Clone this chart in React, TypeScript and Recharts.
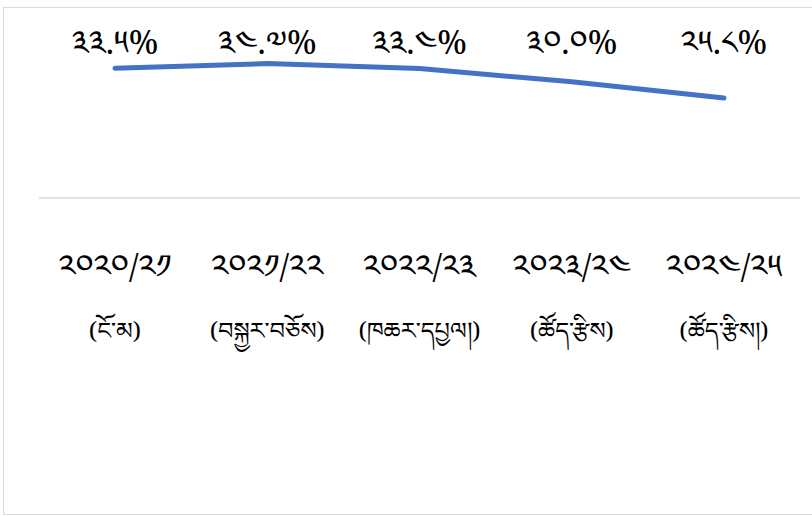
import React from 'react';
import { LineChart, Line, XAxis, YAxis, LabelList } from 'recharts';

const years = ['༢༠༢༠/༢༡', '༢༠༢༡/༢༢', '༢༠༢༢/༢༣', '༢༠༢༣/༢༤', '༢༠༢༤/༢༥'];
const notes = ['(ངོ་མ)', '(བསྐྱར་བཅོས)', '(ཁཆར་དཔྱལ།)', '(ཚོད་རྩིས)', '(ཚོད་རྩིས།)'];
const shares = [33.5, 34.7, 33.4, 30.0, 25.8];

const data = years.map((year, i) => ({ year, note: notes[i], share: shares[i] }));

const FONT = "'Noto Sans Tibetan', 'Noto Serif Tibetan', 'Jomolhari', 'Microsoft Himalaya', 'DejaVu Sans', sans-serif";

// western digits -> tibetan digits
const toTibetan = (s: string) => s.replace(/[0-9]/g, (d) => String.fromCharCode(0x0f20 + Number(d)));

const CategoryTick = (props: any) => {
  const { x, y, payload, index } = props;
  return (
    <g transform={`translate(${x},${y})`}>
      <text x={0} y={70} textAnchor="middle" fontFamily={FONT} fontSize={33} fill="#000" dominantBaseline="central">
        {payload.value}
      </text>
      <text x={0} y={131} textAnchor="middle" fontFamily={FONT} fontSize={24} fill="#000" dominantBaseline="central">
        {notes[index]}
      </text>
    </g>
  );
};

// labels sit in one row above the line, not on each point
const ValueLabel = (props: any) => {
  const { x, value } = props;
  return (
    <text x={x} y={52} textAnchor="middle" fontFamily={FONT} fontSize={33} fill="#000" dominantBaseline="central">
      {toTibetan(Number(value).toFixed(1)) + '%'}
    </text>
  );
};

const App: React.FC = () => {
  return (
    <div style={{ position: 'absolute', left: 0, top: 0, width: 812, height: 516, overflow: 'hidden', background: '#fff' }}>
      <div style={{ position: 'absolute', left: 3, top: 7, width: 830, height: 506, border: '1px solid #d9d9d9' }} />
      <div style={{ position: 'absolute', left: 4, top: 0 }}>
        <LineChart width={808} height={514} data={data} margin={{ top: 43, right: 12, bottom: 0, left: 35 }}>
          <XAxis
            dataKey="year"
            height={316}
            padding={{ left: 76, right: 76 }}
            axisLine={{ stroke: '#d9d9d9', strokeWidth: 1.5 }}
            tickLine={false}
            interval={0}
            tick={<CategoryTick />}
          />
          <YAxis hide domain={[0, 40]} />
          <Line
            type="linear"
            dataKey="share"
            stroke="#4472C4"
            strokeWidth={5}
            strokeLinecap="round"
            dot={false}
            isAnimationActive={false}
          >
            <LabelList dataKey="share" content={<ValueLabel />} />
          </Line>
        </LineChart>
      </div>
    </div>
  );
};

export default App;
